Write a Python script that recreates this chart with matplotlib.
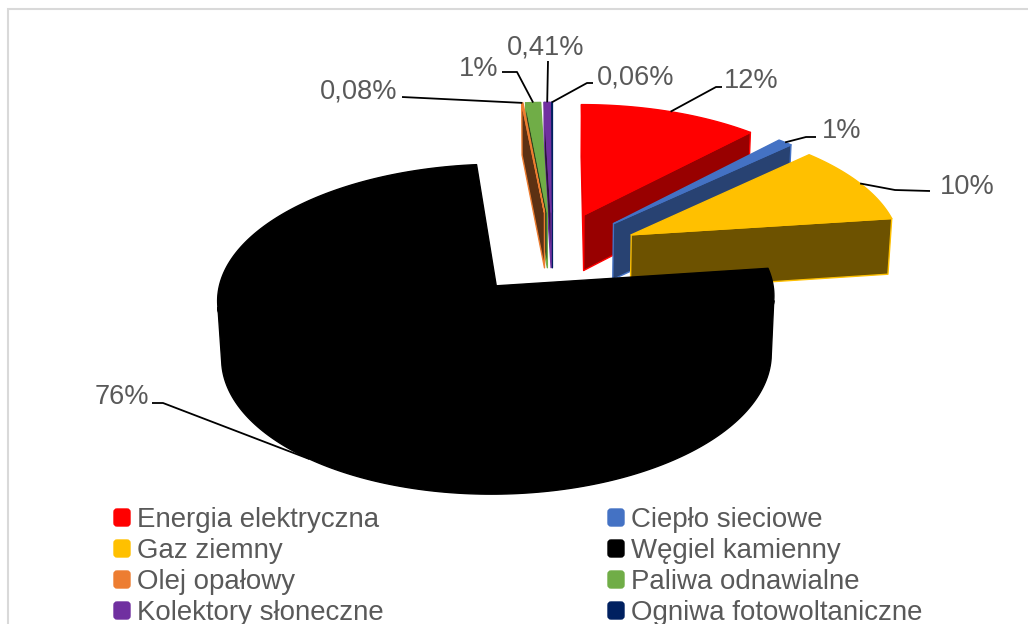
import numpy as np
import matplotlib
matplotlib.use("Agg")
import matplotlib.pyplot as plt
from matplotlib.patches import Polygon, FancyBboxPatch
from matplotlib.colors import to_rgb

categories = ["Energia elektryczna", "Ciepło sieciowe", "Gaz ziemny", "Węgiel kamienny",
              "Olej opałowy", "Paliwa odnawialne", "Kolektory słoneczne", "Ogniwa fotowoltaniczne"]
shares = [12, 1, 10, 76, 0.08, 1, 0.41, 0.06]
share_labels = ["12%", "1%", "10%", "76%", "0,08%", "1%", "0,41%", "0,06%"]
colors = ["#FF0000", "#4472C4", "#FFC000", "#000000", "#ED7D31", "#70AD47", "#7030A0", "#002060"]

W, HP = 1028, 624
fig = plt.figure(figsize=(W / 100, HP / 100), dpi=100)
ax = fig.add_axes([0, 0, 1, 1])
ax.set_xlim(0, W)
ax.set_ylim(HP, 0)
ax.axis("off")

# 3D pie set-up (unit radius): explode, height, elevation, camera distance,
# focal length and screen position of the pie centre
EXPLODE, HEIGHT = 0.327, 0.240
ELEV, CAM_DIST, FOCAL = 0.4886, 9.66, 2612.0
CX, CY = 552.5, 252.5

vals = np.array(shares, float)
edges = np.concatenate([[0], np.cumsum(vals / vals.sum())]) * 2 * np.pi
starts, ends = edges[:-1], edges[1:]
mids = (starts + ends) / 2
n = len(vals)

s_el, c_el = np.sin(ELEV), np.cos(ELEV)
cam_pos = np.array([0, -CAM_DIST * c_el, CAM_DIST * s_el])


def unit(t):
    # clockwise from 12 o'clock
    return np.array([np.sin(t), np.cos(t)])


def proj(pts):
    pts = np.atleast_2d(pts)
    x, y, z = pts[:, 0], pts[:, 1], pts[:, 2]
    depth = CAM_DIST + y * c_el - z * s_el
    return np.column_stack([CX + FOCAL * x / depth, CY - FOCAL * (y * s_el + z * c_el) / depth])


def shade(col, nrm):
    f = 0.39 + 0.28 * max(nrm[0], 0)
    r, g, b = to_rgb(col)
    return (r * f, g * f, b * f)


zc = [10]


def poly(pts3, fc, ec):
    ax.add_patch(Polygon(proj(np.array(pts3)), closed=True, facecolor=fc, edgecolor=ec,
                         lw=1.0, joinstyle="round", zorder=zc[0]))
    zc[0] += 1


# painter's order: farthest slice first
order = sorted(range(n), key=lambda i: -np.cos(mids[i]))
for i in order:
    a0, a1 = starts[i], ends[i]
    col = colors[i]
    o = EXPLODE * unit(mids[i])
    ts = np.linspace(a0, a1, max(2, int(np.degrees(a1 - a0)) + 2))
    top = [np.r_[o + unit(t), 0] for t in ts]
    bot = [np.r_[o + unit(t), -HEIGHT] for t in ts]
    apex_t = np.r_[o, 0]
    apex_b = np.r_[o, -HEIGHT]
    # radial cut faces
    for a, nrm in ((a0, np.array([-np.cos(a0), np.sin(a0), 0])),
                   (a1, np.array([np.cos(a1), -np.sin(a1), 0]))):
        if np.dot(nrm, cam_pos - apex_t) > 0:
            rim_t = np.r_[o + unit(a), 0]
            rim_b = np.r_[o + unit(a), -HEIGHT]
            poly([apex_t, rim_t, rim_b, apex_b], shade(col, nrm), col)
    # outer rim, only the part facing the camera
    vis = [np.dot(np.r_[unit(t), 0], cam_pos - top[k]) > 0 for k, t in enumerate(ts)]
    k = 0
    while k < len(ts):
        if vis[k]:
            j = k
            while j + 1 < len(ts) and vis[j + 1]:
                j += 1
            if j > k:
                tmid = ts[(k + j) // 2]
                poly(top[k:j + 1] + bot[k:j + 1][::-1], shade(col, np.r_[unit(tmid), 0]), col)
            k = j + 1
        else:
            k += 1
    poly([apex_t] + top, col, col)

# data labels with leader lines
label_xy = [(724, 88), (822, 138), (940, 194), (95, 404), (320, 98), (459, 76), (507, 54), (597, 84)]
leader_pts = [[(716, 87), (722, 87)], [(806, 137), (816, 137)], [(895, 190), (930, 191)],
              [(163, 403), (152, 403)], [(402, 97)], [(517, 72), (502, 72)],
              [(548, 61)], [(587, 83), (593, 83)]]
for i in range(n):
    zl = 0.0 if np.cos(mids[i]) >= 0 else -HEIGHT
    rim = EXPLODE * unit(mids[i]) + unit(mids[i])
    anchor = proj(np.r_[rim, zl])[0]
    pts = np.array([anchor] + leader_pts[i])
    ax.plot(pts[:, 0], pts[:, 1], color="black", lw=1.3, zorder=5 if zl < 0 else 100,
            solid_capstyle="butt")
    ax.text(label_xy[i][0], label_xy[i][1], share_labels[i], ha="left", va="baseline",
            fontsize=19.6, color="#595959", family="Liberation Sans", zorder=101)

# legend, row by row in two columns
for i, name in enumerate(categories):
    colx = 113 if i % 2 == 0 else 607
    base = 527 + 31 * (i // 2)
    ax.add_patch(FancyBboxPatch((colx + 1, base - 18), 16, 17,
                                boxstyle="round,pad=0,rounding_size=3",
                                facecolor=colors[i], edgecolor=colors[i], lw=1, zorder=200))
    ax.text(colx + 24, base, name, ha="left", va="baseline", fontsize=19.9,
            color="#595959", family="Liberation Sans", zorder=200)

# chart area frame
ax.plot([7.5, 7.5, W], [HP, 8.5, 8.5], color="#D9D9D9", lw=1.5, zorder=300,
        solid_joinstyle="miter")

fig.savefig("out.png", dpi=100)
